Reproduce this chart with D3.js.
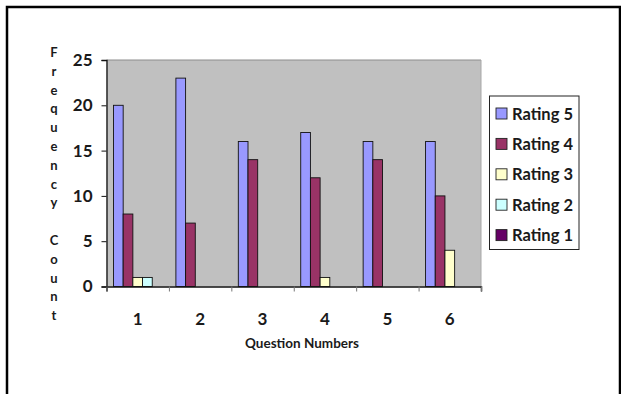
<!DOCTYPE html>
<html lang="en">
<head>
    <meta charset="UTF-8" />
    <title>Frequency count by question</title>
    <script src="https://cdn.jsdelivr.net/npm/d3@7"></script>
    <style>
        body { margin: 0; background: #fff; }
        svg text { font-family: Lato, "Open Sans", sans-serif; font-weight: 700; fill: #1a1a1a; }
    </style>
</head>
<body>
    <svg id="chart" width="621" height="394"></svg>
    <script>
        // data
        const questions = ["1", "2", "3", "4", "5", "6"];
        const ratings = ["Rating 5", "Rating 4", "Rating 3", "Rating 2", "Rating 1"];
        const rating5 = [20, 23, 16, 17, 16, 16];
        const rating4 = [8, 7, 14, 12, 14, 10];
        const rating3 = [1, 0, 0, 1, 0, 4];
        const rating2 = [1, 0, 0, 0, 0, 0];
        const rating1 = [0, 0, 0, 0, 0, 0];
        const yTicks = [0, 5, 10, 15, 20, 25];
        const colors = ["#9999ff", "#993366", "#ffffcc", "#ccffff", "#660066"];

        const series = [rating5, rating4, rating3, rating2, rating1];

        const svg = d3.select("#chart");

        // outer frame (left, top, right)
        svg.append("path")
            .attr("d", "M7,394 V7 H620 V394")
            .attr("fill", "none")
            .attr("stroke", "#000")
            .attr("stroke-width", 2.5);

        const plot = { left: 106.5, right: 481, top: 60, bottom: 286.5 };

        const x = d3.scaleBand()
            .domain(questions)
            .range([plot.left, plot.right])
            .padding(0);
        const xs = d3.scaleBand()
            .domain(ratings)
            .range([0, x.bandwidth()])
            .paddingInner(0)
            .paddingOuter(0.72);
        const y = d3.scaleLinear()
            .domain([0, 25])
            .range([plot.bottom, plot.top]);

        // gray plot area
        svg.append("rect")
            .attr("x", plot.left)
            .attr("y", plot.top)
            .attr("width", plot.right - plot.left)
            .attr("height", plot.bottom - plot.top)
            .attr("fill", "#c0c0c0");
        svg.append("line")
            .attr("x1", plot.left).attr("x2", plot.right)
            .attr("y1", plot.top).attr("y2", plot.top)
            .attr("stroke", "#8c8c8c").attr("stroke-width", 1);
        svg.append("line")
            .attr("x1", plot.right).attr("x2", plot.right)
            .attr("y1", plot.top).attr("y2", plot.bottom)
            .attr("stroke", "#a8a8a8").attr("stroke-width", 1);

        // bars
        const rows = [];
        series.forEach((vals, si) => {
            vals.forEach((v, qi) => {
                if (v > 0) rows.push({ q: questions[qi], r: ratings[si], v: v, c: colors[si] });
            });
        });
        svg.append("g")
            .selectAll("rect")
            .data(rows)
            .join("rect")
            .attr("x", d => x(d.q) + xs(d.r))
            .attr("y", d => y(d.v))
            .attr("width", xs.bandwidth())
            .attr("height", d => y(0) - y(d.v))
            .attr("fill", d => d.c)
            .attr("stroke", "#111")
            .attr("stroke-width", 0.9);

        // y axis
        const yAxis = svg.append("g")
            .attr("transform", `translate(${plot.left},0)`)
            .call(d3.axisLeft(y).tickValues(yTicks).tickSize(5).tickPadding(9));
        yAxis.select(".domain").attr("stroke", "#111").attr("stroke-width", 1.3);
        yAxis.selectAll(".tick line").attr("stroke", "#111");
        yAxis.selectAll("text")
            .style("font-size", "17px")
            .style("font-family", "Lato, sans-serif")
            .style("font-weight", 700)
            .attr("fill", "#1a1a1a");

        // x axis: ticks at category boundaries
        const xb = d3.scaleLinear().domain([0, 6]).range([plot.left, plot.right]);
        const xAxis = svg.append("g")
            .attr("transform", `translate(0,${plot.bottom})`)
            .call(d3.axisBottom(xb).ticks(6).tickSize(5).tickFormat(""));
        xAxis.select(".domain").attr("stroke", "#111").attr("stroke-width", 1.5);
        xAxis.selectAll(".tick line").attr("stroke", "#777");

        svg.append("g")
            .selectAll("text")
            .data(questions)
            .join("text")
            .attr("x", d => x(d) + x.bandwidth() / 2)
            .attr("y", 325)
            .attr("text-anchor", "middle")
            .style("font-size", "17px")
            .text(d => d);

        svg.append("text")
            .attr("x", 302)
            .attr("y", 348)
            .attr("text-anchor", "middle")
            .style("font-size", "13.5px")
            .text("Question Numbers");

        // vertical y title, one letter per line
        const yTitle = "Frequency Count".split("");
        svg.append("g")
            .selectAll("text")
            .data(yTitle)
            .join("text")
            .attr("x", 54)
            .attr("y", (d, i) => 57 + i * 18.8)
            .attr("text-anchor", "middle")
            .style("font-size", "13px")
            .text(d => d);

        // legend
        const legend = svg.append("g");
        legend.append("rect")
            .attr("x", 489.5).attr("y", 96)
            .attr("width", 89.5).attr("height", 153.5)
            .attr("fill", "#fff")
            .attr("stroke", "#222")
            .attr("stroke-width", 1);
        const item = legend.selectAll("g.item")
            .data(ratings)
            .join("g")
            .attr("class", "item")
            .attr("transform", (d, i) => `translate(496,${113.5 + i * 30.4})`);
        item.append("rect")
            .attr("x", 0).attr("y", -5.5)
            .attr("width", 11).attr("height", 11)
            .attr("fill", (d, i) => colors[i])
            .attr("stroke", "#222")
            .attr("stroke-width", 0.9);
        item.append("text")
            .attr("x", 16)
            .attr("y", 6)
            .style("font-size", "17px")
            .attr("textLength", 61)
            .attr("lengthAdjust", "spacingAndGlyphs")
            .text(d => d);
    </script>
</body>
</html>
